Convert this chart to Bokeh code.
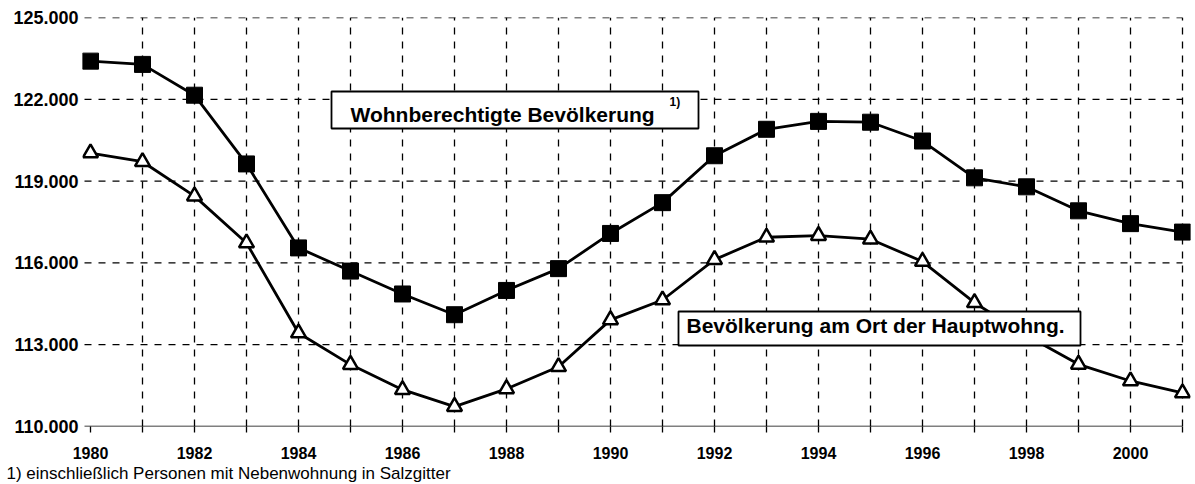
from bokeh.plotting import figure
from bokeh.models import Range1d, FixedTicker, Label, BoxAnnotation, Title
from bokeh.embed import file_html
from bokeh.resources import INLINE

# ---------------- data ----------------
years = list(range(1980, 2002))
wohnberechtigte = [123400, 123280, 122150, 119630, 116550, 115700, 114860, 114100,
                   114990, 115790, 117080, 118210, 119930, 120900, 121190, 121160,
                   120470, 119120, 118790, 117910, 117440, 117130]
hauptwohnung = [120030, 119710, 118450, 116730, 113430, 112270, 111350, 110730,
                111380, 112190, 113910, 114640, 116120, 116940, 117000, 116870,
                116050, 114540, 113340, 112280, 111670, 111230]
x_ticks = years
x_tick_labels = ["1980", "", "1982", "", "1984", "", "1986", "", "1988", "", "1990", "",
                 "1992", "", "1994", "", "1996", "", "1998", "", "2000", ""]
y_ticks = [110000, 113000, 116000, 119000, 122000, 125000]
y_tick_labels = ["110.000", "113.000", "116.000", "119.000", "122.000", "125.000"]
label_wohn = "Wohnberechtigte Bevölkerung"
label_wohn_note = "1)"
label_haupt = "Bevölkerung am Ort der Hauptwohng."
footnote = "1) einschließlich Personen mit Nebenwohnung in Salzgitter"

# ---------------- layout helpers (picture pixel -> data) ----------------
W, H = 1195, 484


def X(px):
    return 1980 + (px - 90) / 52.0


def Y(py):
    return 110000 + (426 - py) * 15000 / 409.0


FONT = "Liberation Sans"

p = figure(width=W, height=H,
           x_range=Range1d(X(82), X(1190)), y_range=Range1d(110000, 125000),
           output_backend="svg", toolbar_location=None,
           min_border_left=82, min_border_right=5, min_border_top=17, min_border_bottom=58)
p.outline_line_color = None
p.background_fill_color = "white"
p.border_fill_color = "white"
p.xgrid.grid_line_color = None
p.ygrid.grid_line_color = None

# x axis
p.xaxis.ticker = FixedTicker(ticks=x_ticks)
p.xaxis.major_label_overrides = {t: l for t, l in zip(x_ticks, x_tick_labels)}
p.xaxis.axis_line_color = None
p.xaxis.major_tick_in = 0
p.xaxis.major_tick_out = 6
p.xaxis.major_tick_line_color = "black"
p.xaxis.major_tick_line_width = 1.3
p.xaxis.minor_tick_line_color = None
p.xaxis.major_label_text_font = FONT
p.xaxis.major_label_text_font_style = "bold"
p.xaxis.major_label_text_font_size = "16px"
p.xaxis.major_label_text_color = "black"
p.xaxis.major_label_standoff = 14

# y axis
p.yaxis.ticker = FixedTicker(ticks=y_ticks)
p.yaxis.major_label_overrides = {t: l for t, l in zip(y_ticks, y_tick_labels)}
p.yaxis.axis_line_color = None
p.yaxis.major_tick_line_color = None
p.yaxis.major_tick_in = 0
p.yaxis.major_tick_out = 0
p.yaxis.minor_tick_line_color = None
p.yaxis.major_label_text_font = FONT
p.yaxis.major_label_text_font_style = "bold"
p.yaxis.major_label_text_font_size = "18px"
p.yaxis.major_label_text_color = "black"
p.yaxis.major_label_standoff = 4

# dashed grid
p.segment(x0=[X(84)] * (len(y_ticks) - 1), y0=y_ticks[1:],
          x1=[years[-1]] * (len(y_ticks) - 1), y1=y_ticks[1:],
          line_color="black", line_width=1.3, line_dash="7 7")
p.segment(x0=years[1:], y0=[y_ticks[0]] * (len(years) - 1),
          x1=years[1:], y1=[y_ticks[-1]] * (len(years) - 1),
          line_color="black", line_width=1.3, line_dash="7 7")
# base line
p.segment(x0=[X(84)], y0=[y_ticks[0]], x1=[years[-1]], y1=[y_ticks[0]],
          line_color="black", line_width=1.5)

# series
p.line(years, wohnberechtigte, line_color="black", line_width=2.8)
p.scatter(years, wohnberechtigte, marker="square", size=16,
          fill_color="black", line_color="black", line_width=1)
p.line(years, hauptwohnung, line_color="black", line_width=2.8)
p.scatter(years, hauptwohnung, marker="triangle", size=15,
          fill_color="white", line_color="black", line_width=2.5)

# label boxes
p.add_layout(BoxAnnotation(left=X(331), right=X(698), top=Y(91), bottom=Y(128),
                           fill_color="white", fill_alpha=1.0,
                           line_color="black", line_alpha=1.0, line_width=1.8))
p.add_layout(Label(x=X(350), y=Y(113.5), text=label_wohn, text_font=FONT,
                   text_font_style="bold", text_font_size="21px",
                   text_baseline="middle", text_align="left", text_color="black"))
p.add_layout(Label(x=X(669), y=Y(101.5), text=label_wohn_note, text_font=FONT,
                   text_font_style="bold", text_font_size="12px",
                   text_baseline="middle", text_align="left", text_color="black"))

p.add_layout(BoxAnnotation(left=X(678), right=X(1080), top=Y(311), bottom=Y(345),
                           fill_color="white", fill_alpha=1.0,
                           line_color="black", line_alpha=1.0, line_width=1.8))
p.add_layout(Label(x=X(686), y=Y(325), text=label_haupt, text_font=FONT,
                   text_font_style="bold", text_font_size="21px",
                   text_baseline="middle", text_align="left", text_color="black"))

# footnote (title below the x axis, shifted to the left edge)
p.add_layout(Title(text=footnote, align="left", offset=-76, standoff=0,
                   text_font=FONT, text_font_size="17px", text_font_style="normal",
                   text_color="black"), "below")

open("out.html", "w").write(file_html(p, INLINE))
